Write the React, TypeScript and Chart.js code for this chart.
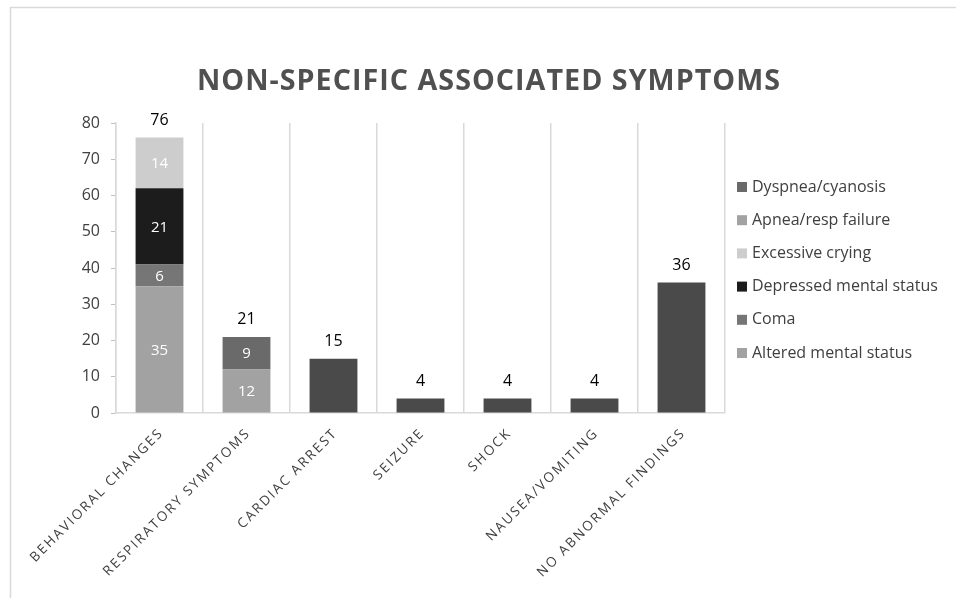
import { useEffect, useRef } from "react";
import { Chart, registerables } from "chart.js";
Chart.register(...registerables);

const categories = [
  "BEHAVIORAL CHANGES",
  "RESPIRATORY SYMPTOMS",
  "CARDIAC ARREST",
  "SEIZURE",
  "SHOCK",
  "NAUSEA/VOMITING",
  "NO ABNORMAL FINDINGS",
];
const alteredMentalStatus = [35, 0, 0, 0, 0, 0, 0];
const coma = [6, 0, 0, 0, 0, 0, 0];
const depressedMentalStatus = [21, 0, 0, 0, 0, 0, 0];
const excessiveCrying = [14, 0, 0, 0, 0, 0, 0];
const apneaRespFailure = [0, 12, 0, 0, 0, 0, 0];
const dyspneaCyanosis = [0, 9, 0, 0, 0, 0, 0];
const otherSymptoms = [0, 0, 15, 4, 4, 4, 36];
const yMin = 0;
const yMax = 80;
const yStep = 10;
const titleText = "NON-SPECIFIC ASSOCIATED SYMPTOMS";

const FONT = "'Open Sans', sans-serif";

export default function App() {
  const ref = useRef<HTMLCanvasElement | null>(null);

  useEffect(() => {
    const canvas = ref.current;
    if (!canvas) return;

    const series = [
      { label: "Altered mental status", data: alteredMentalStatus, color: "#a2a2a2", legend: true },
      { label: "Coma", data: coma, color: "#767676", legend: true },
      { label: "Depressed mental status", data: depressedMentalStatus, color: "#1c1c1c", legend: true },
      { label: "Excessive crying", data: excessiveCrying, color: "#cdcdcd", legend: true },
      { label: "Apnea/resp failure", data: apneaRespFailure, color: "#a2a2a2", legend: true },
      { label: "Dyspnea/cyanosis", data: dyspneaCyanosis, color: "#6a6a6a", legend: true },
      { label: "Other", data: otherSymptoms, color: "#4a4a4a", legend: false },
    ];

    const framePlugin = {
      id: "frame",
      beforeDraw(chart: any) {
        const ctx = chart.ctx;
        ctx.save();
        ctx.fillStyle = "#ffffff";
        ctx.fillRect(0, 0, chart.width, chart.height);
        ctx.strokeStyle = "#d9d9d9";
        ctx.lineWidth = 1.5;
        ctx.beginPath();
        ctx.moveTo(10, 7.5);
        ctx.lineTo(chart.width, 7.5);
        ctx.moveTo(10.5, 7);
        ctx.lineTo(10.5, chart.height);
        ctx.stroke();
        ctx.restore();
      },
    };

    const labelsPlugin = {
      id: "customLabels",
      afterDraw(chart: any) {
        const ctx = chart.ctx;
        const xs = chart.scales.x;
        const ys = chart.scales.y;
        ctx.save();
        // title
        ctx.font = `bold 28px ${FONT}`;
        (ctx as any).letterSpacing = "1px";
        ctx.fillStyle = "#505050";
        ctx.textAlign = "left";
        ctx.textBaseline = "alphabetic";
        const tw = ctx.measureText(titleText).width;
        const target = 584;
        ctx.save();
        ctx.translate(489 - target / 2, 90);
        ctx.scale(target / tw, 1);
        ctx.fillText(titleText, 0, 0);
        ctx.restore();
        (ctx as any).letterSpacing = "0px";

        // inner segment labels
        ctx.font = `15px ${FONT}`;
        ctx.fillStyle = "#ffffff";
        ctx.textAlign = "center";
        ctx.textBaseline = "middle";
        chart.data.datasets.forEach((ds: any, di: number) => {
          if (ds.isOther) return;
          const meta = chart.getDatasetMeta(di);
          meta.data.forEach((el: any, i: number) => {
            const v = ds.data[i];
            if (!v) return;
            ctx.fillText(String(v), el.x, (el.y + el.base) / 2 + 1);
          });
        });

        // totals
        ctx.fillStyle = "#000000";
        ctx.font = `16px ${FONT}`;
        categories.forEach((_, i) => {
          let total = 0;
          chart.data.datasets.forEach((ds: any) => (total += ds.data[i] || 0));
          const x = xs.getPixelForValue(i);
          const y = ys.getPixelForValue(total);
          ctx.fillText(String(total), x, y - 17);
        });

        // x labels rotated
        ctx.fillStyle = "#404040";
        ctx.font = `13.5px ${FONT}`;
        (ctx as any).letterSpacing = "2px";
        ctx.textAlign = "right";
        ctx.textBaseline = "middle";
        categories.forEach((c, i) => {
          const x = xs.getPixelForValue(i);
          ctx.save();
          ctx.translate(x + 2, ys.bottom + 18);
          ctx.rotate(-Math.PI / 4);
          ctx.fillText(c, 0, 0);
          ctx.restore();
        });
        (ctx as any).letterSpacing = "0px";

        // legend
        ctx.font = `16px ${FONT}`;
        ctx.textAlign = "left";
        ctx.textBaseline = "middle";
        const legendItems = series.filter((s) => s.legend).slice().reverse();
        legendItems.forEach((s, k) => {
          const y = 187 + k * 33.2;
          ctx.fillStyle = s.color;
          ctx.fillRect(737, y - 5, 10, 10);
          ctx.fillStyle = "#404040";
          ctx.fillText(s.label, 752, y);
        });
        ctx.restore();
      },
    };

    const chart = new Chart(canvas, {
      type: "bar",
      data: {
        labels: categories,
        datasets: series.map((s) => ({
          label: s.label,
          data: s.data,
          backgroundColor: s.color,
          borderWidth: 0,
          categoryPercentage: 1,
          barPercentage: 0.55,
          isOther: !s.legend,
        })) as any,
      },
      options: {
        responsive: false,
        animation: false,
        devicePixelRatio: 1,
        layout: { padding: { top: 123, right: 231, bottom: 185, left: 0 } },
        plugins: {
          legend: { display: false },
          title: { display: false },
          tooltip: { enabled: false },
        },
        scales: {
          x: {
            stacked: true,
            ticks: { display: false },
            grid: { display: true, offset: true, color: "#d9d9d9", drawTicks: false, lineWidth: 1.5 },
            border: { display: true, color: "#d9d9d9", width: 1.5 },
            afterFit: (s: any) => {
              s.height = 0;
            },
          },
          y: {
            stacked: true,
            min: yMin,
            max: yMax,
            ticks: {
              stepSize: yStep,
              color: "#404040",
              font: { family: FONT, size: 16 },
              padding: 11,
            },
            grid: { drawOnChartArea: false, drawTicks: true, tickLength: 5, color: "#bfbfbf" },
            border: { display: true, color: "#d9d9d9", width: 1.5 },
            afterFit: (s: any) => {
              s.width = 116;
            },
          },
        },
      },
      plugins: [framePlugin, labelsPlugin],
    });

    return () => chart.destroy();
  }, []);

  return (
    <div style={{ position: "absolute", left: 0, top: 0, width: 956, height: 598, background: "#fff" }}>
      <canvas ref={ref} width={956} height={598} style={{ display: "block" }} />
    </div>
  );
}
